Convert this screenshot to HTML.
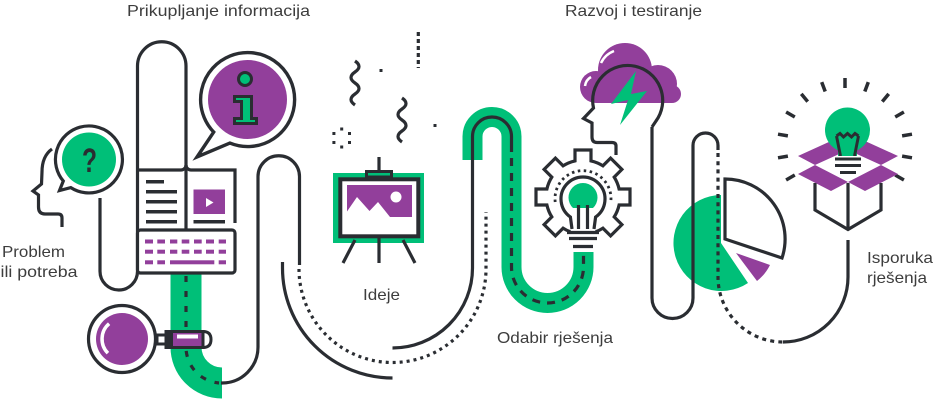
<!DOCTYPE html>
<html><head><meta charset="utf-8">
<style>
html,body{margin:0;padding:0;background:#fff;}
svg{display:block;}
.t{font-family:"Liberation Sans",sans-serif;font-size:16px;fill:#3d3d3d;}
</style></head><body>
<svg width="938" height="400" viewBox="0 0 938 400" xmlns="http://www.w3.org/2000/svg">
<!-- green roads -->
<g fill="none" stroke="#00bf78">
<path d="M186,273 V347 A36,36 0 0 0 222,383" stroke-width="31"/>
<path d="M472.5,160 V136.5 A19.5,19.5 0 0 1 511.5,136.5 V267 A36,36 0 0 0 583.5,267 V252" stroke-width="20"/>
</g>

<!-- pie green -->
<path d="M721,243 V195 A48,48 0 1 0 748,283 Z" fill="#00bf78"/>

<!-- dark connector lines -->
<g fill="none" stroke="#2a2d32" stroke-width="3.2">
<path d="M100,198 V271.25 A18.75,18.75 0 0 0 137.5,271.25 V66 A24.25,24.25 0 0 1 186,66 V230"/>
<path d="M186,276 V347 A36,36 0 0 0 219,383" stroke-dasharray="6 9"/>
<path d="M221,383 H222 A36,36 0 0 0 258,347 V176.5 A20.75,20.75 0 0 1 299.5,176.5 V265"/>
<path d="M282.5,262 V268 A110,110 0 0 0 392.5,378"/>
<path d="M299,269 A93.5,93.5 0 0 0 486,269 V212" stroke-dasharray="3 4"/>
<path d="M392.5,348 A80,80 0 0 0 472.5,268 V136.5 A19.5,19.5 0 0 1 511.5,136.5 V152"/>
<path d="M511.5,158 V267 A36,36 0 0 0 583.5,267 V255" stroke-dasharray="8 7"/>
<path d="M652,127 V298 A20.5,20.5 0 0 0 693,298 V145.5 A12.5,12.5 0 0 1 718,145.5 V150"/>
<path d="M718,153 V277 A65,65 0 0 0 783,342" stroke-dasharray="4 4.2"/>
<path d="M783,342 A65,65 0 0 0 848,277 V240"/>
</g>

<!-- Problem head -->
<path d="M52,149 C45,154 42,162 42,172 L41.5,184 L33,191 L38.5,195 L38.5,207 Q38.5,214 45,214 L58,214 Q62,214 62,218 L62,227" fill="none" stroke="#2a2d32" stroke-width="3.2"/>
<path d="M63.3,181 L59.5,190.5 L70.8,187.6 A33.5,33.5 0 1 0 63.3,181 Z" fill="#fff" stroke="#2a2d32" stroke-width="3.2"/>
<circle cx="89" cy="159.5" r="27" fill="#00bf78"/>
<text x="82" y="172" font-family="Liberation Sans, sans-serif" font-weight="bold" font-size="34" fill="#2a2d32" textLength="15" lengthAdjust="spacingAndGlyphs">?</text>

<!-- info bubble -->
<path d="M213.7,132.1 L197,157 L229.9,143.1 A47,47 0 1 0 213.7,132.1 Z" fill="#fff" stroke="#2a2d32" stroke-width="3.4"/>
<circle cx="247.5" cy="99.5" r="39.5" fill="#923f9b"/>
<circle cx="245" cy="79" r="6.5" fill="#00bf78" stroke="#2a2d32" stroke-width="3"/>
<path d="M234.5,96.5 H251.5 V118.5 H256.5 V123.5 H234.5 V118.5 H241.5 V101.5 H234.5 Z" fill="#00bf78" stroke="#2a2d32" stroke-width="3"/>

<!-- book -->
<g fill="none" stroke="#2a2d32" stroke-width="3.2">
<path d="M137.5,170 H181 A5,5 0 0 0 186,165"/>
<path d="M186,165 A5,5 0 0 0 191,170 H235 V223"/>
<path d="M146,181.7 H164 M146,191.7 H177 M146,201.7 H177 M146,211.7 H177 M146,221.7 H177 M193.5,221.7 H225" stroke-width="3.5"/>
</g>
<rect x="193.5" y="189.5" width="31.5" height="24.5" fill="#923f9b"/>
<path d="M206,198 L213.5,202.5 L206,207 Z" fill="#fff"/>
<rect x="137.5" y="230" width="97.5" height="43" rx="3" fill="#fff" stroke="#2a2d32" stroke-width="3.2"/>
<g fill="#923f9b">
<rect x="145" y="239.5" width="8" height="4"/><rect x="157.3" y="239.5" width="7.7" height="4"/><rect x="170" y="239.5" width="7.3" height="4"/><rect x="181.7" y="239.5" width="7.6" height="4"/><rect x="194" y="239.5" width="7.7" height="4"/><rect x="206" y="239.5" width="8" height="4"/><rect x="218.7" y="239.5" width="7.3" height="4"/>
<rect x="145" y="249.7" width="8" height="4"/><rect x="157.3" y="249.7" width="7.7" height="4"/><rect x="170" y="249.7" width="7.3" height="4"/><rect x="181.7" y="249.7" width="7.6" height="4"/><rect x="194" y="249.7" width="7.7" height="4"/><rect x="206" y="249.7" width="8" height="4"/><rect x="218.7" y="249.7" width="7.3" height="4"/>
<rect x="145" y="260.3" width="8" height="4"/><rect x="157.3" y="260.3" width="7.7" height="4"/><rect x="170" y="260.3" width="44.3" height="4"/><rect x="218.7" y="260.3" width="7.3" height="4"/>
</g>

<!-- magnifier -->
<rect x="157" y="335" width="9" height="9" fill="#fff" stroke="#2a2d32" stroke-width="3"/>
<circle cx="122" cy="339" r="33.5" fill="#fff" stroke="#2a2d32" stroke-width="3.2"/>
<circle cx="122" cy="339" r="26" fill="#923f9b"/>
<path d="M109.1,323.7 A20,20 0 0 0 107.9,353.1" fill="none" stroke="#fff" stroke-width="3.5"/>
<rect x="166" y="331.5" width="37" height="16" fill="#923f9b" stroke="#2a2d32" stroke-width="3"/>
<rect x="165" y="331" width="8" height="17" fill="#2a2d32"/>
<rect x="177" y="334.5" width="21" height="4" fill="#fff"/>
<path d="M203,331.5 Q211,331.5 211,339.5 Q211,347.5 203,347.5 Z" fill="#fff" stroke="#2a2d32" stroke-width="3"/>

<!-- squiggles & dots -->
<g fill="none" stroke="#2a2d32" stroke-width="3.2">
<path d="M355,61 Q363,66.5 355,72 T355,83 T355,94 T355,105"/>
<path d="M402,98 Q410,103.5 402,109 T402,120 T402,131 T402,142"/>
<path d="M418.3,32 V68" stroke-dasharray="4 3"/>
</g>
<g fill="#2a2d32">
<rect x="379.5" y="69" width="3" height="3"/>
<rect x="433.5" y="124" width="3" height="3"/>
<rect x="340.2" y="127.5" width="3" height="3"/>
<rect x="348" y="132" width="3" height="3"/>
<rect x="348" y="141" width="3" height="3"/>
<rect x="340.2" y="145.5" width="3" height="3"/>
<rect x="332.4" y="141" width="3" height="3"/>
<rect x="332.4" y="132" width="3" height="3"/>
</g>

<!-- easel -->
<rect x="333" y="173" width="91" height="70" fill="#00bf78"/>
<rect x="340.3" y="179.3" width="78" height="57" fill="#fff" stroke="#2a2d32" stroke-width="4"/>
<rect x="347" y="185" width="65" height="32" fill="#923f9b"/>
<path d="M347,211.5 L357,197 L369.5,211 L378,202 L390,217 L347,217 Z" fill="#fff"/>
<circle cx="396" cy="197" r="5.5" fill="#fff"/>
<g fill="none" stroke="#2a2d32" stroke-width="3.2">
<path d="M379,157 V171"/>
<path d="M379,238 V263 M355,240 L343,263 M403,240 L415,263"/>
</g>
<rect x="366.5" y="171.5" width="25" height="5.5" fill="#00bf78" stroke="#2a2d32" stroke-width="3"/>

<!-- cloud & head -->
<g fill="#923f9b">
<circle cx="625" cy="70" r="27"/>
<circle cx="596" cy="87" r="16"/>
<circle cx="658" cy="84" r="19"/>
<circle cx="672" cy="94" r="9"/>
<rect x="596" y="80" width="76" height="23"/>
</g>
<g fill="none" stroke="#fff" stroke-width="2.5">
<path d="M601,63 A24,24 0 0 1 614,51"/>
<path d="M585,86 A12,12 0 0 1 591,77"/>
</g>
<path d="M636,71 L611,104 L628,100 L620,125 L647,91 L631,94 Z" fill="#00bf78"/>
<path d="M616,155 V146 Q616,142.5 612,142.5 H597 Q592,142.5 592,137 V123 L583.5,118.5 L593.5,108 A35,35 0 1 1 656,121 L652,127" fill="none" stroke="#2a2d32" stroke-width="3.2"/>

<!-- gear + bulb -->
<path d="M570.3,231.8 A37,37 0 0 1 563.1,228.2 L555.4,235.9 L544.1,224.6 L551.8,216.9 A37,37 0 0 1 546.9,205 L536,205 L536,189 L546.9,189 A37,37 0 0 1 551.8,177.1 L544.1,169.4 L555.4,158.1 L563.1,165.8 A37,37 0 0 1 575,160.9 L575,150 L591,150 L591,160.9 A37,37 0 0 1 602.9,165.8 L610.6,158.1 L621.9,169.4 L614.2,177.1 A37,37 0 0 1 619.1,189 L630,189 L630,205 L619.1,205 A37,37 0 0 1 614.2,216.9 L621.9,224.6 L610.6,235.9 L602.9,228.2 A37,37 0 0 1 595.7,231.8" fill="#fff" stroke="#2a2d32" stroke-width="3.2"/>
<path d="M573,208 A14.5,14.5 0 1 1 593,208 Z" fill="#00bf78"/>
<g fill="none" stroke="#2a2d32" stroke-width="3.2">
<path d="M572,229 L570.4,217 A22,22 0 1 1 595.6,217 L594,229"/>
<path d="M578.5,205 V229 M587.5,205 V229"/>
<path d="M555.2,202 A28,28 0 1 1 610.8,202" stroke-width="2.8" stroke-dasharray="2.5 3.5"/>
<path d="M567,232.5 H599 M569,238.5 H597 M573,246.5 H593"/>
</g>

<!-- pie slices -->
<path d="M725,179 V239 L782,258 A60,60 0 0 0 725,179 Z" fill="#fff" stroke="#2a2d32" stroke-width="3.2"/>
<path d="M736,253 L770,265 A46,46 0 0 1 757,281 Z" fill="#923f9b"/>

<!-- box rays -->
<g fill="none" stroke="#2a2d32" stroke-width="3.5">
<path d="M845,88 V78 M864.8,91.5 L868.3,82.1 M825.2,91.5 L821.7,82.1 M882.3,101.6 L888.7,93.9 M807.7,101.6 L801.3,93.9 M895.2,117 L903.9,112 M794.8,117 L786.1,112 M902.1,135.9 L912,134.2 M787.9,135.9 L778,134.2 M902.1,156.1 L912,157.8 M787.9,156.1 L778,157.8 M895.2,175 L903.9,180 M794.8,175 L786.1,180"/>
</g>
<!-- box -->
<g fill="#923f9b">
<path d="M815,165 L848,150 L831,141 L798,156 Z"/>
<path d="M848,150 L881,165 L898,156 L865,141 Z"/>
<path d="M815,165 L848,182 L831,191 L798,174 Z"/>
<path d="M881,165 L848,182 L865,191 L898,174 Z"/>
</g>
<path d="M815,183 V210 L848,229.5 L881,210 V183 M848,183 V229.5" fill="none" stroke="#2a2d32" stroke-width="3.2"/>
<circle cx="847.5" cy="130" r="22.5" fill="#00bf78"/>
<rect x="838" y="140" width="19" height="18" fill="#00bf78"/>
<g fill="none" stroke="#2a2d32" stroke-width="3">
<path d="M836.5,136 L840.5,156 M858.5,136 L854.5,156 M836.5,136 L840,133.5 L843.5,137 L847.5,133.5 L851.5,137 L855,133.5 L858.5,136"/>
</g>
<path d="M835,159 H861 M835,165.5 H861 M840,172.5 H856" fill="none" stroke="#fff" stroke-width="6"/>
<path d="M835,159 H861 M835,165.5 H861 M840,172.5 H856" fill="none" stroke="#2a2d32" stroke-width="3"/>

<!-- labels -->
<text class="t" x="127" y="16" textLength="183" lengthAdjust="spacingAndGlyphs">Prikupljanje informacija</text>
<text class="t" x="565" y="16" textLength="137" lengthAdjust="spacingAndGlyphs">Razvoj i testiranje</text>
<text class="t" x="2" y="257" textLength="63" lengthAdjust="spacingAndGlyphs">Problem</text>
<text class="t" x="0.5" y="277" textLength="77" lengthAdjust="spacingAndGlyphs">ili potreba</text>
<text class="t" x="363" y="300" textLength="37" lengthAdjust="spacingAndGlyphs">Ideje</text>
<text class="t" x="497" y="343" textLength="116" lengthAdjust="spacingAndGlyphs">Odabir rješenja</text>
<text class="t" x="867" y="263" textLength="66" lengthAdjust="spacingAndGlyphs">Isporuka</text>
<text class="t" x="867" y="283" textLength="60" lengthAdjust="spacingAndGlyphs">rješenja</text>
</svg>
</body></html>
